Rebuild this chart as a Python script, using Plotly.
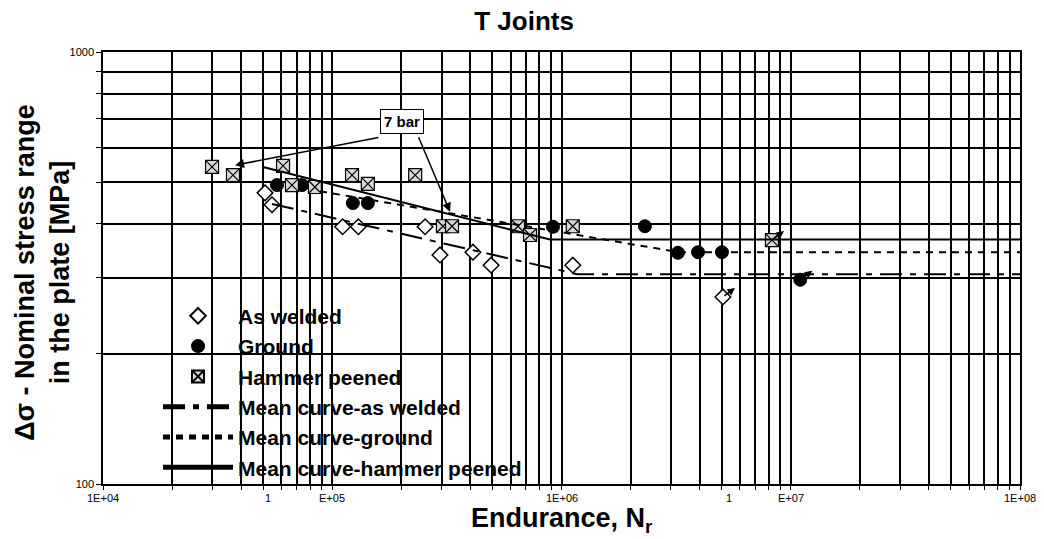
import plotly.graph_objects as go
import numpy as np

# ---------------- data ----------------
aw_N = [50.9e3, 54.6e3, 111e3, 130e3, 254e3, 295e3, 411e3, 493e3, 1.12e6, 5.06e6]
aw_S = [472, 443, 394, 394, 394, 339, 344, 321, 321, 271]

gr_N = [57.4e3, 73.8e3, 123e3, 143e3, 918e3, 2.31e6, 3.22e6, 3.94e6, 5.01e6, 11.0e6]
gr_S = [492, 492, 447, 447, 394, 395, 343, 344, 344, 297]

hp_N = [29.9e3, 36.9e3, 61e3, 66.7e3, 84e3, 122e3, 143e3, 230e3, 304e3, 333e3, 646e3, 729e3, 1.12e6, 8.28e6]
hp_S = [542, 519, 545, 492, 487, 519, 495, 519, 395, 395, 395, 377, 395, 367]

aw_mean_N = [54.6e3, 1.17e6, 1e8]
aw_mean_S = [445, 306, 306]
gr_mean_N = [88.5e3, 3.26e6, 1e8]
gr_mean_S = [476, 344, 344]
hp_mean_N = [49.9e3, 891e3, 1e8]
hp_mean_S = [542, 368, 368]

x_tick_vals = [1e4, 1e5, 1e6, 1e7, 1e8]
x_tick_text = ["1E+04", "E+05", "1E+06", "E+07", "1E+08"]
x_extra_labels = [("1", 10 ** 4.72), ("1", 10 ** 6.73)]
y_tick_vals = [100, 1000]
y_tick_text = ["100", "1000"]

# 7 bar arrows (tail -> head) in data units
seven_bar_pos = (10 ** 5.304, 10 ** 2.840)
seven_bar_arrows = [((10 ** 5.208, 10 ** 2.803), (10 ** 4.576, 10 ** 2.738)),
                    ((10 ** 5.374, 10 ** 2.806), (10 ** 5.514, 10 ** 2.630))]

FONT = "Liberation Sans, Arial, sans-serif"

# grid values: 1..9 per decade
grid_x = [m * 10 ** k for k in range(4, 8) for m in range(1, 10)] + [1e8]
grid_y = [m * 100 for m in range(1, 11)]

fig = go.Figure()

fig.add_trace(go.Scatter(x=aw_N, y=aw_S, mode="markers", name="As welded",
                         marker=dict(symbol="diamond", size=12, color="white",
                                     line=dict(color="black", width=1.5))))
fig.add_trace(go.Scatter(x=gr_N, y=gr_S, mode="markers", name="Ground",
                         marker=dict(symbol="circle", size=13, color="black",
                                     line=dict(color="black", width=1))))
fig.add_trace(go.Scatter(x=hp_N, y=hp_S, mode="markers", name="Hammer peened",
                         marker=dict(symbol="square-x", size=13, color="#d9d9d9",
                                     line=dict(color="black", width=1.2))))
fig.add_trace(go.Scatter(x=aw_mean_N, y=aw_mean_S, mode="lines", name="Mean curve-as welded",
                         line=dict(color="black", width=2, dash="22px,8px,6px,8px")))
fig.add_trace(go.Scatter(x=gr_mean_N, y=gr_mean_S, mode="lines", name="Mean curve-ground",
                         line=dict(color="black", width=2, dash="7px,6px")))
fig.add_trace(go.Scatter(x=hp_mean_N, y=hp_mean_S, mode="lines", name="Mean curve-hammer peened",
                         line=dict(color="black", width=2)))

annotations = []
# x tick labels
for v, t in zip(x_tick_vals, x_tick_text):
    annotations.append(dict(x=np.log10(v), y=0, xref="x", yref="paper", text=t,
                            showarrow=False, yanchor="top", yshift=-6,
                            font=dict(family=FONT, size=11, color="black")))
for t, v in x_extra_labels:
    annotations.append(dict(x=np.log10(v), y=0, xref="x", yref="paper", text=t,
                            showarrow=False, yanchor="top", yshift=-6,
                            font=dict(family=FONT, size=11, color="black")))

# 7 bar label and arrows
annotations.append(dict(x=np.log10(seven_bar_pos[0]), y=np.log10(seven_bar_pos[1]), xref="x", yref="y",
                        text="7 bar", showarrow=False, bgcolor="white", bordercolor="black",
                        borderwidth=1, borderpad=3,
                        font=dict(family=FONT, size=15, color="black", weight="bold")))
for (tx, ty), (hx, hy) in seven_bar_arrows:
    annotations.append(dict(x=np.log10(hx), y=np.log10(hy), ax=np.log10(tx), ay=np.log10(ty),
                            xref="x", yref="y", axref="x", ayref="y", text="",
                            showarrow=True, arrowhead=2, arrowsize=1.2, arrowwidth=1.5,
                            arrowcolor="black"))

# run-out arrows on last point of each series
for xs, ys in [(aw_N, aw_S), (gr_N, gr_S), (hp_N, hp_S)]:
    annotations.append(dict(x=np.log10(xs[-1]), y=np.log10(ys[-1]), xref="x", yref="y",
                            xshift=12, yshift=9, ax=-12, ay=9, text="", showarrow=True,
                            arrowhead=2, arrowsize=1, arrowwidth=1.5, arrowcolor="black"))

# axis titles
annotations.append(dict(x=0.5, y=-0.084, xref="paper", yref="paper", yanchor="middle",
                        text="Endurance, N<sub>r</sub>", showarrow=False,
                        font=dict(family=FONT, size=27, color="black", weight="bold")))
annotations.append(dict(x=-0.066, y=0.49, xref="paper", yref="paper", xanchor="center",
                        yanchor="middle", textangle=-90,
                        text="Δσ - Nominal stress range<br>in the plate [MPa]", showarrow=False,
                        font=dict(family=FONT, size=27, color="black", weight="bold")))

fig.update_layout(
    width=1044, height=539,
    margin=dict(l=103, r=24, t=52, b=55),
    paper_bgcolor="white", plot_bgcolor="white",
    title=dict(text="T Joints", x=0.502, xanchor="center", y=0.961, yanchor="middle",
               font=dict(family=FONT, size=26, color="black", weight="bold")),
    showlegend=True,
    legend=dict(x=0.06, y=0.436, xanchor="left", yanchor="top", bgcolor="rgba(0,0,0,0)",
                itemwidth=70, itemsizing="constant",
                font=dict(family=FONT, size=21, color="black", weight="bold")),
    annotations=annotations,
    shapes=[dict(type="rect", xref="paper", yref="paper", x0=0.002, x1=0.547, y0=0.002, y1=0.426,
                 fillcolor="white", line=dict(width=0), layer="between")],
)

fig.update_xaxes(type="log", range=[4, 8], tickvals=grid_x, ticktext=[""] * len(grid_x),
                 showgrid=True, gridcolor="black", gridwidth=1.5,
                 showline=True, linecolor="black", linewidth=1.5, mirror=True,
                 ticks="outside", ticklen=4, tickcolor="black", zeroline=False)
fig.update_yaxes(type="log", range=[2, 3], tickvals=grid_y,
                 ticktext=[y_tick_text[y_tick_vals.index(v)] if v in y_tick_vals else "" for v in grid_y],
                 showgrid=True, gridcolor="black", gridwidth=1.5,
                 showline=True, linecolor="black", linewidth=1.5, mirror=True,
                 ticks="outside", ticklen=5, tickcolor="black", zeroline=False,
                 tickfont=dict(family=FONT, size=11, color="black"))

fig.write_html("out.html", config={"displayModeBar": False},
               post_script="document.body.style.margin='0';document.body.style.overflow='hidden';")
